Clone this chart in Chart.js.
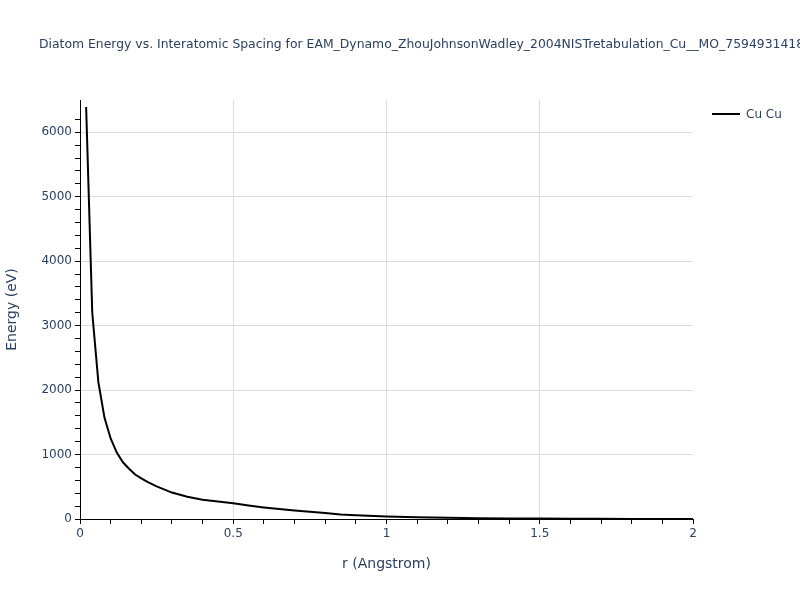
<!DOCTYPE html>
<html>
<head>
<meta charset="utf-8">
<script src="https://cdn.jsdelivr.net/npm/chart.js@4.4.1/dist/chart.umd.min.js"></script>
<style>
  html, body { margin: 0; padding: 0; background: #fff; }
  #wrap { width: 800px; height: 600px; position: relative; }
</style>
</head>
<body>
<div id="wrap"><canvas id="myChart"></canvas></div>
<script>
// data
var chartTitle = 'Diatom Energy vs. Interatomic Spacing for EAM_Dynamo_ZhouJohnsonWadley_2004NISTretabulation_Cu__MO_759493141826_000';
var seriesLabel = 'Cu Cu';
var rValues = [0.02, 0.04, 0.06, 0.08, 0.10, 0.12, 0.14, 0.16, 0.18, 0.20, 0.22, 0.25, 0.30, 0.35, 0.40, 0.45, 0.50,
               0.55, 0.60, 0.65, 0.70, 0.75, 0.80, 0.85, 0.90, 1.00, 1.10, 1.20, 1.30, 1.40, 1.50, 1.60, 1.70, 1.80, 1.90, 2.00];
var energyValues = [6390, 3200, 2120, 1570, 1250, 1030, 880, 780, 690, 630, 575, 505, 410, 345, 300, 270, 243,
                    210, 180, 155, 132, 112, 92, 70, 58, 40, 27, 19, 13, 9, 6, 4, 2.5, 1.5, 0.8, 0.3];
var xTickLabels = { 0: '0', 0.5: '0.5', 1: '1', 1.5: '1.5', 2: '2' };

var textColor = '#2a3f5f';
var gridColor = '#dcdcdc';
var fontFamily = '"DejaVu Sans", Verdana, sans-serif';

function isMajor(v, step) {
    var q = v / step;
    return Math.abs(q - Math.round(q)) < 1e-6;
}

// title + legend drawn like plotly puts them
var extras = {
    id: 'extras',
    afterDraw: function (chart) {
        var c = chart.ctx;
        c.save();
        c.fillStyle = textColor;
        c.font = '12.4px ' + fontFamily;
        c.textBaseline = 'middle';
        c.textAlign = 'left';
        c.fillText(chartTitle, 39, 45);

        var ds = chart.data.datasets[0];
        c.strokeStyle = ds.borderColor;
        c.lineWidth = 2;
        c.beginPath();
        c.moveTo(712, 114);
        c.lineTo(740, 114);
        c.stroke();
        c.font = '12px ' + fontFamily;
        c.fillText(ds.label, 746, 115);
        c.restore();
    }
};

var ctx = document.getElementById('myChart').getContext('2d');
var chart = new Chart(ctx, {
    type: 'line',
    data: {
        datasets: [{
            label: seriesLabel,
            data: rValues.map(function (r, i) { return { x: r, y: energyValues[i] }; }),
            borderColor: '#000000',
            borderWidth: 2,
            pointRadius: 0,
            tension: 0,
            fill: false
        }]
    },
    options: {
        responsive: true,
        maintainAspectRatio: false,
        animation: false,
        layout: { padding: { top: 100, right: 107, left: 0, bottom: 0 } },
        plugins: {
            legend: { display: false },
            title: { display: false },
            tooltip: { enabled: false }
        },
        scales: {
            x: {
                type: 'linear',
                min: 0,
                max: 2,
                afterFit: function (scale) { scale.height = 81; },
                border: { color: '#000', width: 1 },
                grid: {
                    color: function (c) {
                        var v = c.tick ? c.tick.value : 0;
                        if (v <= 0 || v >= 2) return 'rgba(0,0,0,0)';
                        return isMajor(v, 0.5) ? gridColor : 'rgba(0,0,0,0)';
                    },
                    tickColor: '#000',
                    tickLength: 5
                },
                ticks: {
                    stepSize: 0.1,
                    autoSkip: false,
                    maxRotation: 0,
                    padding: 3,
                    color: textColor,
                    font: { family: fontFamily, size: 12 },
                    callback: function (v) {
                        return isMajor(v, 0.5) ? xTickLabels[Math.round(v * 2) / 2] : '';
                    }
                },
                title: {
                    display: true,
                    text: 'r (Angstrom)',
                    color: textColor,
                    font: { family: fontFamily, size: 14 },
                    padding: { top: 0, bottom: 27 }
                }
            },
            y: {
                type: 'linear',
                min: 0,
                max: 6500,
                afterFit: function (scale) { scale.width = 80; },
                afterBuildTicks: function (scale) {
                    scale.ticks = scale.ticks.filter(function (t) { return t.value <= 6400; });
                },
                border: { color: '#000', width: 1 },
                grid: {
                    color: function (c) {
                        var v = c.tick ? c.tick.value : 0;
                        if (v <= 0) return 'rgba(0,0,0,0)';
                        return isMajor(v, 1000) ? gridColor : 'rgba(0,0,0,0)';
                    },
                    tickColor: '#000',
                    tickLength: 5
                },
                ticks: {
                    stepSize: 200,
                    autoSkip: false,
                    padding: 3,
                    color: textColor,
                    font: { family: fontFamily, size: 12 },
                    callback: function (v) {
                        return isMajor(v, 1000) ? String(v) : '';
                    }
                },
                title: {
                    display: true,
                    text: 'Energy (eV)',
                    color: textColor,
                    font: { family: fontFamily, size: 14 },
                    padding: { top: 4, bottom: 0 }
                }
            }
        }
    },
    plugins: [extras]
});
</script>
</body>
</html>
